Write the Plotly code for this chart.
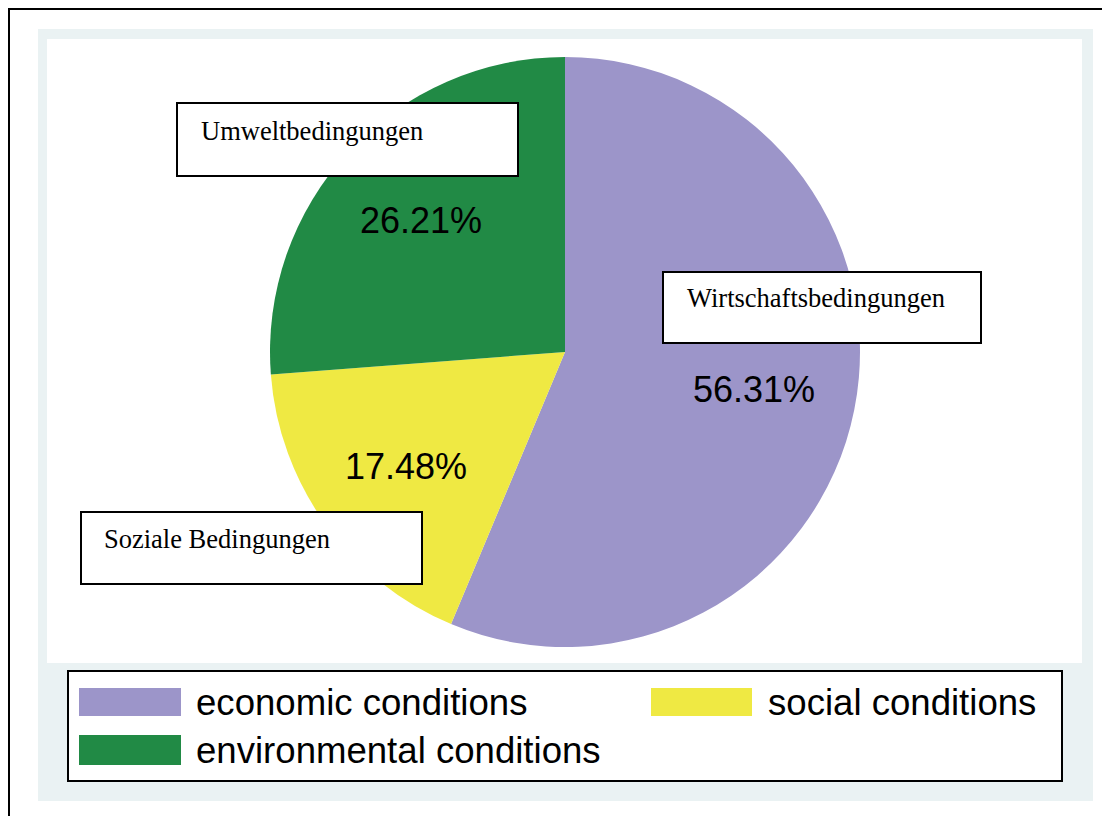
import plotly.graph_objects as go

# page body has an 8px margin; the figure is sized to fill the rest of the window
OFF = 8
W, H = 1110 - OFF, 816 - OFF

# ---- data ----
categories = ["economic conditions", "social conditions", "environmental conditions"]
values = [56.31, 17.48, 26.21]
box_labels = ["Wirtschaftsbedingungen", "Soziale Bedingungen", "Umweltbedingungen"]
colors = ["#9C95C9", "#EFE943", "#218A45"]

def px(x):
    return (x - OFF) / W

def py(y):
    return 1 - (y - OFF) / H

SANS = "Liberation Sans, Arial, Helvetica, sans-serif"
SERIF = "Liberation Serif, Times New Roman, serif"

# pie geometry (window pixels)
cx, cy, r = 565, 352, 295

fig = go.Figure(go.Pie(
    labels=categories,
    values=values,
    marker=dict(colors=colors, line=dict(width=0)),
    sort=False,
    direction="clockwise",
    rotation=0,
    textinfo="none",
    hoverinfo="label+percent",
    showlegend=False,
    domain=dict(x=[px(cx - r), px(cx + r)], y=[py(cy + r), py(cy - r)]),
))

shapes = []
annotations = []

# background frames
shapes.append(dict(type="rect", xref="paper", yref="paper", layer="below",
                   x0=px(38), x1=px(1093), y0=py(801), y1=py(29),
                   fillcolor="#EAF2F3", line=dict(width=0)))
shapes.append(dict(type="rect", xref="paper", yref="paper", layer="below",
                   x0=px(47), x1=px(1082), y0=py(663), y1=py(39),
                   fillcolor="white", line=dict(width=0)))
shapes.append(dict(type="rect", xref="paper", yref="paper", layer="below",
                   x0=px(9), x1=px(1130), y0=py(840), y1=py(9),
                   fillcolor="rgba(0,0,0,0)", line=dict(color="black", width=2)))

# label boxes (one per category)
box_pos = [  # x0, y0, x1, y1, text-left, text-middle
    (663, 272, 981, 343, 685, 298),
    (81, 512, 422, 584, 102, 539),
    (177, 103, 518, 176, 199, 131),
]
for lab, (x0, y0, x1, y1, tx, ty) in zip(box_labels, box_pos):
    shapes.append(dict(type="rect", xref="paper", yref="paper", layer="above",
                       x0=px(x0), x1=px(x1), y0=py(y1), y1=py(y0),
                       fillcolor="white", line=dict(color="black", width=2)))
    annotations.append(dict(xref="paper", yref="paper", x=px(tx), y=py(ty),
                            xanchor="left", yanchor="middle", showarrow=False,
                            text=lab, font=dict(family=SERIF, size=26.5, color="black")))

# percentage labels
pct_pos = [(754, 389), (406, 467), (421, 220)]
total = sum(values)
for v, (x, y) in zip(values, pct_pos):
    annotations.append(dict(xref="paper", yref="paper", x=px(x), y=py(y),
                            xanchor="center", yanchor="middle", showarrow=False,
                            text=f"{100 * v / total:.2f}%",
                            font=dict(family=SANS, size=36, color="black")))

# custom legend
shapes.append(dict(type="rect", xref="paper", yref="paper", layer="below",
                   x0=px(68), x1=px(1062), y0=py(781), y1=py(671),
                   fillcolor="white", line=dict(color="black", width=2)))
leg_pos = [(79, 688, 181, 716, 194, 702),
           (651, 688, 752, 716, 766, 702),
           (79, 735, 181, 765, 194, 750)]
for cat, col, (x0, y0, x1, y1, tx, ty) in zip(categories, colors, leg_pos):
    shapes.append(dict(type="rect", xref="paper", yref="paper", layer="above",
                       x0=px(x0), x1=px(x1), y0=py(y1), y1=py(y0),
                       fillcolor=col, line=dict(width=0)))
    annotations.append(dict(xref="paper", yref="paper", x=px(tx), y=py(ty),
                            xanchor="left", yanchor="middle", showarrow=False,
                            text=cat, font=dict(family=SANS, size=36.6, color="black")))

fig.update_layout(
    width=W, height=H, autosize=False,
    margin=dict(l=0, r=0, t=0, b=0),
    paper_bgcolor="white", plot_bgcolor="white",
    shapes=shapes, annotations=annotations,
    showlegend=False,
)

fig.write_html("out.html")
